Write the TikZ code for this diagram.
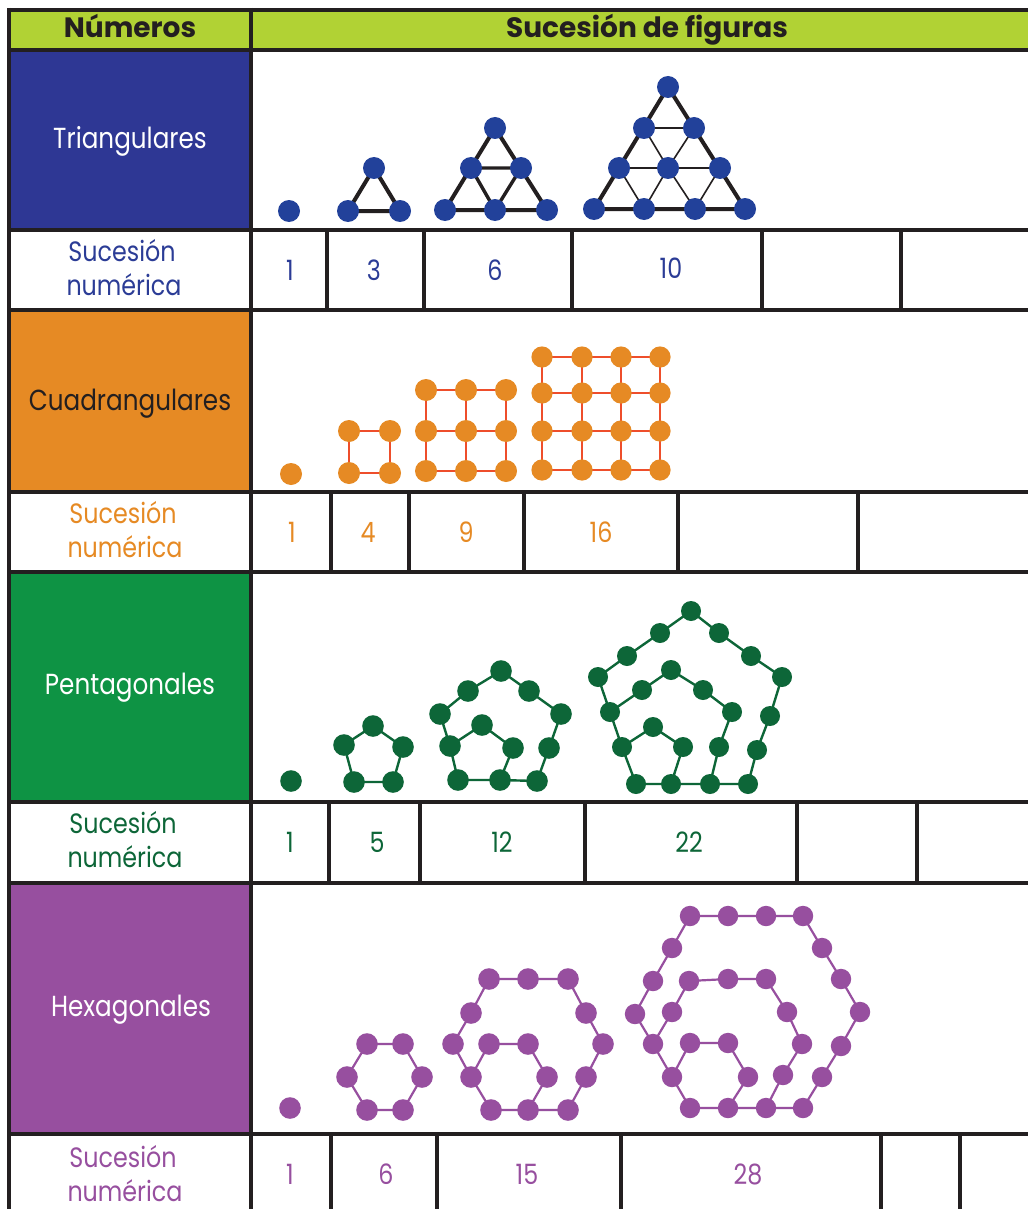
\documentclass[tikz,border=0pt]{standalone}
\usepackage{fontspec}
\setmainfont{Poppins}[FakeStretch=0.85]
\newfontfamily\hdrfont{Poppins}
\definecolor{lineblack}{HTML}{231F20}
\definecolor{hdrgreen}{HTML}{B1D234}
\definecolor{cellblue}{HTML}{2E3794}
\definecolor{dotblue}{HTML}{22419A}
\definecolor{txtblue}{HTML}{2B3C96}
\definecolor{cellorange}{HTML}{E68A24}
\definecolor{sqline}{HTML}{EE4E2B}
\definecolor{cellgreen}{HTML}{0E9344}
\definecolor{dotgreen}{HTML}{0D6638}
\definecolor{cellpurple}{HTML}{974F9F}
\newcommand\putdots[3]{\foreach \p in {#3} {\fill[#1] (\p) circle (#2);}}
\begin{document}
\begin{tikzpicture}[x=1pt,y=-1pt,
  gridline/.style={line width=4pt,draw=lineblack},
  hdr/.style={font=\hdrfont\bfseries\fontsize{28}{32}\selectfont,text=lineblack,anchor=base,inner sep=0pt},
  lbl/.style={font=\fontsize{29}{34}\selectfont,anchor=base,inner sep=0pt},
  seqlbl/.style={font=\fontsize{28}{34}\selectfont,anchor=base,inner sep=0pt},
  num/.style={font=\fontsize{28}{32}\selectfont,anchor=base,inner sep=0pt},
  triedge/.style={line width=4pt,draw=lineblack},
  trithin/.style={line width=1.6pt,draw=lineblack},
  sqedge/.style={line width=2.2pt,draw=sqline},
  pentedge/.style={line width=2.4pt,draw=dotgreen},
  hexedge/.style={line width=2.2pt,draw=cellpurple}]
\useasboundingbox (0,0) rectangle (1028,1209);
\fill[white] (0,0) rectangle (1028,1209);
% ---- cell fills
\fill[hdrgreen] (9,10) rectangle (1028,50);
\fill[cellblue] (9,50) rectangle (251,230);
\fill[cellorange] (9,310) rectangle (251,492);
\fill[cellgreen] (9,572) rectangle (251,802);
\fill[cellpurple] (9,883) rectangle (251,1134);
% ---- table grid
\foreach \yy in {10,50,230,310,492,572,802,883,1134}
  {\draw[gridline] (7,\yy) -- (1028,\yy);}
\draw[gridline] (9,8) -- (9,1209);
\draw[gridline] (251,8) -- (251,1209);
\foreach \xx in {327,424,572,762,901} {\draw[gridline] (\xx,230) -- (\xx,310);}
\foreach \xx in {331,409,524,678,858} {\draw[gridline] (\xx,492) -- (\xx,572);}
\foreach \xx in {329,420,585,797,917} {\draw[gridline] (\xx,802) -- (\xx,883);}
\foreach \xx in {331,437,621,881,960} {\draw[gridline] (\xx,1134) -- (\xx,1209);}
% ---- header texts
\node[hdr] (hnum) at (130,38) {Números};
\node[hdr] (hsuc) at (647,38) {Sucesión de figuras};
% ---- row labels
\node[lbl,text=white] (ltri) at (130,149) {Triangulares};
\node[lbl,text=lineblack] (lcua) at (130,410) {Cuadrangulares};
\node[lbl,text=white] (lpen) at (130,694) {Pentagonales};
\node[lbl,text=white] (lhex) at (131,1016) {Hexagonales};
% ---- sequence labels
\node[seqlbl,text=txtblue] (s1a) at (122,261) {Sucesión};
\node[seqlbl,text=txtblue] (s1b) at (124,295) {numérica};
\node[seqlbl,text=cellorange] (s2a) at (123,523) {Sucesión};
\node[seqlbl,text=cellorange] (s2b) at (125,557) {numérica};
\node[seqlbl,text=dotgreen] (s3a) at (123,833) {Sucesión};
\node[seqlbl,text=dotgreen] (s3b) at (125,867) {numérica};
\node[seqlbl,text=cellpurple] (s4a) at (123,1167) {Sucesión};
\node[seqlbl,text=cellpurple] (s4b) at (125,1201) {numérica};
% ---- numbers
\node[num,text=txtblue] (n11) at (290,280) {1};
\node[num,text=txtblue] (n12) at (374,280) {3};
\node[num,text=txtblue] (n13) at (495,280) {6};
\node[num,text=txtblue] (n14) at (671,278) {10};
\node[num,text=cellorange] (n21) at (292,542) {1};
\node[num,text=cellorange] (n22) at (368,542) {4};
\node[num,text=cellorange] (n23) at (466,542) {9};
\node[num,text=cellorange] (n24) at (601,542) {16};
\node[num,text=dotgreen] (n31) at (290,852) {1};
\node[num,text=dotgreen] (n32) at (377,852) {5};
\node[num,text=dotgreen] (n33) at (502,852) {12};
\node[num,text=dotgreen] (n34) at (689,852) {22};
\node[num,text=cellpurple] (n41) at (290,1184) {1};
\node[num,text=cellpurple] (n42) at (386,1184) {6};
\node[num,text=cellpurple] (n43) at (527,1184) {15};
\node[num,text=cellpurple] (n44) at (748,1184) {28};
% ================= triangular figures
\coordinate (ta) at (289,211);
\coordinate (tb1) at (374,168); \coordinate (tb2) at (348,211); \coordinate (tb3) at (400,211);
\coordinate (tc1) at (495,128); \coordinate (tc2) at (471,168); \coordinate (tc3) at (521,168);
\coordinate (tc4) at (445,210); \coordinate (tc5) at (495,210); \coordinate (tc6) at (547,210);
\coordinate (td1) at (668,87);
\coordinate (td2) at (644,128); \coordinate (td3) at (694,128);
\coordinate (td4) at (619,168); \coordinate (td5) at (668,168); \coordinate (td6) at (720,168);
\coordinate (td7) at (594,209); \coordinate (td8) at (644,209); \coordinate (td9) at (695,209); \coordinate (td10) at (745,209);
\draw[triedge,line join=round] (tb1) -- (tb2) -- (tb3) -- cycle;
\draw[triedge,line join=round] (tc1) -- (tc4) -- (tc6) -- cycle;
\draw[line width=3.4pt,draw=lineblack] (tc2) -- (tc3) -- (tc5) -- cycle;
\draw[trithin] (td2) -- (td3);
\draw[trithin] (td4) -- (td6);
\draw[trithin] (td2) -- (td5) -- (td3);
\draw[trithin] (td4) -- (td8) -- (td5) -- (td9) -- (td6);
\draw[triedge,line join=round] (td1) -- (td7) -- (td10) -- cycle;
\putdots{dotblue}{11}{ta,tb1,tb2,tb3,tc1,tc2,tc3,tc4,tc5,tc6,td1,td2,td3,td4,td5,td6,td7,td8,td9,td10}
% ================= square figures
\coordinate (qa) at (291,474);
\foreach \i/\x in {1/349,2/390} {\foreach \j/\y in {1/431,2/473} {\coordinate (qb\i\j) at (\x,\y);}}
\foreach \i/\x in {1/426,2/466,3/506} {\foreach \j/\y in {1/390,2/431,3/471} {\coordinate (qc\i\j) at (\x,\y);}}
\foreach \i/\x in {1/542,2/582,3/621,4/660} {\foreach \j/\y in {1/357,2/393,3/431,4/470} {\coordinate (qd\i\j) at (\x,\y);}}
\draw[sqedge] (qb11) -- (qb21) -- (qb22) -- (qb12) -- cycle;
\foreach \k in {1,2,3} {\draw[sqedge] (qc1\k) -- (qc3\k); \draw[sqedge] (qc\k1) -- (qc\k3);}
\foreach \k in {1,2,3,4} {\draw[sqedge] (qd1\k) -- (qd4\k); \draw[sqedge] (qd\k1) -- (qd\k4);}
\putdots{cellorange}{11}{qa,qb11,qb12,qb21,qb22}
\foreach \i in {1,2,3} {\foreach \j in {1,2,3} {\fill[cellorange] (qc\i\j) circle (11);}}
\foreach \i in {1,2,3,4} {\foreach \j in {1,2,3,4} {\fill[cellorange] (qd\i\j) circle (10.6);}}
% ================= pentagonal figures
\coordinate (pa) at (291,781);
\coordinate (pb1) at (354,782); \coordinate (pb2) at (393,782); \coordinate (pb3) at (403,747);
\coordinate (pb4) at (373,726); \coordinate (pb5) at (344,745);
\coordinate (pc1) at (458,780); \coordinate (pc2) at (500,780); \coordinate (pc3) at (537,781);
\coordinate (pc4) at (549,748); \coordinate (pc5) at (561,714); \coordinate (pc6) at (529,691);
\coordinate (pc7) at (501,671); \coordinate (pc8) at (468,691); \coordinate (pc9) at (440,714);
\coordinate (pc10) at (450,746); \coordinate (pc11) at (513,748); \coordinate (pc12) at (482,725);
\coordinate (pd1) at (636,784); \coordinate (pd2) at (671,784); \coordinate (pd3) at (710,784);
\coordinate (pd4) at (748,784); \coordinate (pd5) at (757,750); \coordinate (pd6) at (770,716);
\coordinate (pd7) at (782,677); \coordinate (pd8) at (751,656); \coordinate (pd9) at (719,633);
\coordinate (pd10) at (691,611); \coordinate (pd11) at (660,633); \coordinate (pd12) at (627,656);
\coordinate (pd13) at (598,677); \coordinate (pd14) at (610,712); \coordinate (pd15) at (622,747);
\coordinate (pd16) at (719,747); \coordinate (pd17) at (732,712); \coordinate (pd18) at (703,690);
\coordinate (pd19) at (671,670); \coordinate (pd20) at (642,690);
\coordinate (pd21) at (683,747); \coordinate (pd22) at (653,727);
\draw[pentedge] (pb1) -- (pb2) -- (pb3) -- (pb4) -- (pb5) -- cycle;
\draw[pentedge] (pc1) -- (pc2) -- (pc3) -- (pc4) -- (pc5) -- (pc6) -- (pc7) -- (pc8) -- (pc9) -- (pc10) -- cycle;
\draw[pentedge] (pc2) -- (pc11) -- (pc12) -- (pc10);
\draw[pentedge] (pd1) -- (pd2) -- (pd3) -- (pd4) -- (pd5) -- (pd6) -- (pd7) -- (pd8) -- (pd9) -- (pd10) -- (pd11) -- (pd12) -- (pd13) -- (pd14) -- (pd15) -- cycle;
\draw[pentedge] (pd3) -- (pd16) -- (pd17) -- (pd18) -- (pd19) -- (pd20) -- (pd14);
\draw[pentedge] (pd2) -- (pd21) -- (pd22) -- (pd15);
\putdots{dotgreen}{10.8}{pa,pb1,pb2,pb3,pb4,pb5,pc1,pc2,pc3,pc4,pc5,pc6,pc7,pc8,pc9,pc10,pc11,pc12}
\putdots{dotgreen}{10}{pd1,pd2,pd3,pd4,pd5,pd6,pd7,pd8,pd9,pd10,pd11,pd12,pd13,pd14,pd15,pd16,pd17,pd18,pd19,pd20,pd21,pd22}
% ================= hexagonal figures
\coordinate (ha) at (290,1108);
\coordinate (hb1) at (367,1110); \coordinate (hb2) at (403,1110); \coordinate (hb3) at (422,1077);
\coordinate (hb4) at (403,1044); \coordinate (hb5) at (367,1044); \coordinate (hb6) at (347,1077);
\coordinate (hc1) at (491,1110); \coordinate (hc2) at (528,1110); \coordinate (hc3) at (568,1110);
\coordinate (hc4) at (586,1077); \coordinate (hc5) at (603,1044); \coordinate (hc6) at (586,1013);
\coordinate (hc7) at (568,979); \coordinate (hc8) at (528,979); \coordinate (hc9) at (489,979);
\coordinate (hc10) at (471,1013); \coordinate (hc11) at (453,1044); \coordinate (hc12) at (471,1077);
\coordinate (hc13) at (547,1077); \coordinate (hc14) at (528,1044); \coordinate (hc15) at (489,1044);
\coordinate (hd1) at (690,1108); \coordinate (hd2) at (728,1108); \coordinate (hd3) at (766,1108);
\coordinate (hd4) at (803,1108); \coordinate (hd5) at (822,1077); \coordinate (hd6) at (841,1046);
\coordinate (hd7) at (860,1012); \coordinate (hd8) at (841,979); \coordinate (hd9) at (822,948);
\coordinate (hd10) at (803,916); \coordinate (hd11) at (766,916); \coordinate (hd12) at (728,916);
\coordinate (hd13) at (690,916); \coordinate (hd14) at (672,948); \coordinate (hd15) at (653,981);
\coordinate (hd16) at (635,1014); \coordinate (hd17) at (653,1044); \coordinate (hd18) at (672,1077);
\coordinate (hd19) at (783,1075); \coordinate (hd20) at (802,1044); \coordinate (hd21) at (787,1012);
\coordinate (hd22) at (766,979); \coordinate (hd23) at (728,979); \coordinate (hd24) at (689,981);
\coordinate (hd25) at (672,1012);
\coordinate (hd26) at (748,1077); \coordinate (hd27) at (728,1043); \coordinate (hd28) at (690,1043);
\draw[hexedge] (hb1) -- (hb2) -- (hb3) -- (hb4) -- (hb5) -- (hb6) -- cycle;
\draw[hexedge] (hc1) -- (hc2) -- (hc3) -- (hc4) -- (hc5) -- (hc6) -- (hc7) -- (hc8) -- (hc9) -- (hc10) -- (hc11) -- (hc12) -- cycle;
\draw[hexedge] (hc2) -- (hc13) -- (hc14) -- (hc15) -- (hc12);
\draw[hexedge] (hd1) -- (hd2) -- (hd3) -- (hd4) -- (hd5) -- (hd6) -- (hd7) -- (hd8) -- (hd9) -- (hd10) -- (hd11) -- (hd12) -- (hd13) -- (hd14) -- (hd15) -- (hd16) -- (hd17) -- (hd18) -- cycle;
\draw[hexedge] (hd3) -- (hd19) -- (hd20) -- (hd21) -- (hd22) -- (hd23) -- (hd24) -- (hd25) -- (hd17);
\draw[hexedge] (hd2) -- (hd26) -- (hd27) -- (hd28) -- (hd18);
\putdots{cellpurple}{10.8}{ha,hb1,hb2,hb3,hb4,hb5,hb6,hc1,hc2,hc3,hc4,hc5,hc6,hc7,hc8,hc9,hc10,hc11,hc12,hc13,hc14,hc15}
\putdots{cellpurple}{10.2}{hd1,hd2,hd3,hd4,hd5,hd6,hd7,hd8,hd9,hd10,hd11,hd12,hd13,hd14,hd15,hd16,hd17,hd18,hd19,hd20,hd21,hd22,hd23,hd24,hd25,hd26,hd27,hd28}
\end{tikzpicture}
\end{document}
